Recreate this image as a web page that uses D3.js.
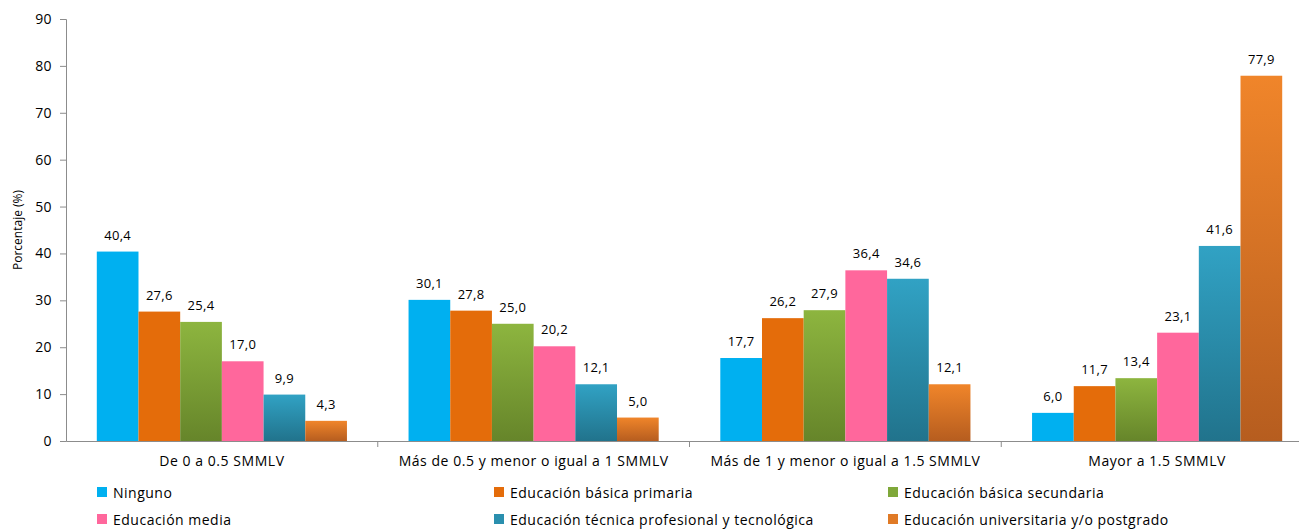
<!DOCTYPE html>
<html><head><meta charset="utf-8">
<script src="https://cdn.jsdelivr.net/npm/d3@7"></script>
<style>html,body{margin:0;padding:0;background:#fff;overflow:hidden}</style>
</head><body>
<svg id="c" width="1299" height="529"></svg>
<script>
const categories = ["De 0 a 0.5 SMMLV", "Más de 0.5 y menor o igual a 1 SMMLV", "Más de 1 y menor o igual a 1.5 SMMLV", "Mayor a 1.5 SMMLV"];
const seriesNames = ["Ninguno", "Educación básica primaria", "Educación básica secundaria", "Educación media", "Educación técnica profesional y tecnológica", "Educación universitaria y/o postgrado"];
const ninguno = [40.4, 30.1, 17.7, 6.0];
const primaria = [27.6, 27.8, 26.2, 11.7];
const secundaria = [25.4, 25.0, 27.9, 13.4];
const media = [17.0, 20.2, 36.4, 23.1];
const tecnica = [9.9, 12.1, 34.6, 41.6];
const universitaria = [4.3, 5.0, 12.1, 77.9];
const yTicks = [0, 10, 20, 30, 40, 50, 60, 70, 80, 90];

(function () {
const seriesValues = [ninguno, primaria, secundaria, media, tecnica, universitaria];
const colors = [
  ["#00B0F0", "#00B0F0"],
  ["#E46C0A", "#E46C0A"],
  ["#8DB53F", "#66852A"],
  ["#FF679C", "#FF679C"],
  ["#31A2C4", "#21738C"],
  ["#F0852A", "#B65D1F"]
];
const legendColors = ["#00B0F0", "#E46C0A", "#7FA83A", "#FF679C", "#2A8FAE", "#E07A26"];

const svg = d3.select("#c");
const font = "'Open Sans', 'Noto Sans', sans-serif";
const pLeft = 66, pTop = 19, pBottom = 441, pRight = 1313;

const defs = svg.append("defs");
colors.forEach((c, i) => {
  const g = defs.append("linearGradient").attr("id", "g" + i).attr("x1", 0).attr("y1", 0).attr("x2", 0).attr("y2", 1);
  g.append("stop").attr("offset", "0%").attr("stop-color", c[0]);
  g.append("stop").attr("offset", "100%").attr("stop-color", c[1]);
});

const y = d3.scaleLinear().domain([0, 90]).range([pBottom, pTop]);
const x0 = d3.scaleBand().domain(categories).range([pLeft, pRight]).paddingInner(0).paddingOuter(0);
const x1 = d3.scaleBand().domain(d3.range(6)).range([30.8, x0.bandwidth() - 30.8]).padding(0);

categories.forEach((cat, ci) => {
  const g = svg.append("g").attr("transform", `translate(${x0(cat)},0)`);
  seriesValues.forEach((vals, si) => {
    const v = vals[ci];
    g.append("rect")
      .attr("x", x1(si)).attr("width", x1.bandwidth())
      .attr("y", y(v)).attr("height", y(0) - y(v))
      .attr("fill", `url(#g${si})`);
    g.append("text")
      .attr("x", x1(si) + x1.bandwidth() / 2)
      .attr("y", y(v) - 12)
      .attr("text-anchor", "middle")
      .attr("font-family", font).attr("font-size", 13).attr("letter-spacing", 0.3).attr("fill", "#000")
      .text(d3.format(".1f")(v).replace(".", ","));
  });
});

const yAxis = svg.append("g").attr("transform", `translate(${pLeft},0)`)
  .call(d3.axisLeft(y).tickValues(yTicks).tickSize(6).tickPadding(8).tickFormat(d3.format("d")));
yAxis.select(".domain").attr("stroke", "#8C8C8C");
yAxis.selectAll(".tick line").attr("stroke", "#8C8C8C");
yAxis.selectAll(".tick text").attr("font-family", font).attr("font-size", 14).attr("letter-spacing", 0.4).attr("fill", "#000");

const xAxis = svg.append("g").attr("transform", `translate(0,${pBottom})`)
  .call(d3.axisBottom(x0).tickSize(0).tickPadding(18));
xAxis.select(".domain").attr("stroke", "#8C8C8C");
xAxis.selectAll(".tick text").attr("font-family", font).attr("font-size", 14).attr("letter-spacing", 0.55).attr("fill", "#000").attr("dy", "0.5em");
svg.append("g").selectAll("line").data(categories.slice(1)).join("line")
  .attr("x1", d => x0(d)).attr("x2", d => x0(d))
  .attr("y1", pBottom).attr("y2", pBottom + 6).attr("stroke", "#8C8C8C");

svg.append("text")
  .attr("transform", `translate(22,${(pTop + pBottom) / 2}) rotate(-90)`)
  .attr("text-anchor", "middle")
  .attr("font-family", font).attr("font-size", 12).attr("fill", "#000")
  .text("Porcentaje (%)");

const legX = [97, 494, 888];
const legY = [493, 520];
seriesNames.forEach((n, i) => {
  const col = i % 3, row = Math.floor(i / 3);
  const g = svg.append("g").attr("transform", `translate(${legX[col]},${legY[row]})`);
  g.append("rect").attr("x", 0).attr("y", -6).attr("width", 10).attr("height", 10).attr("fill", legendColors[i]);
  g.append("text").attr("x", 16).attr("y", 0).attr("dy", "0.35em")
    .attr("font-family", font).attr("font-size", 14).attr("letter-spacing", 0.5).attr("fill", "#000").text(n);
});
})();
</script>
</body></html>
